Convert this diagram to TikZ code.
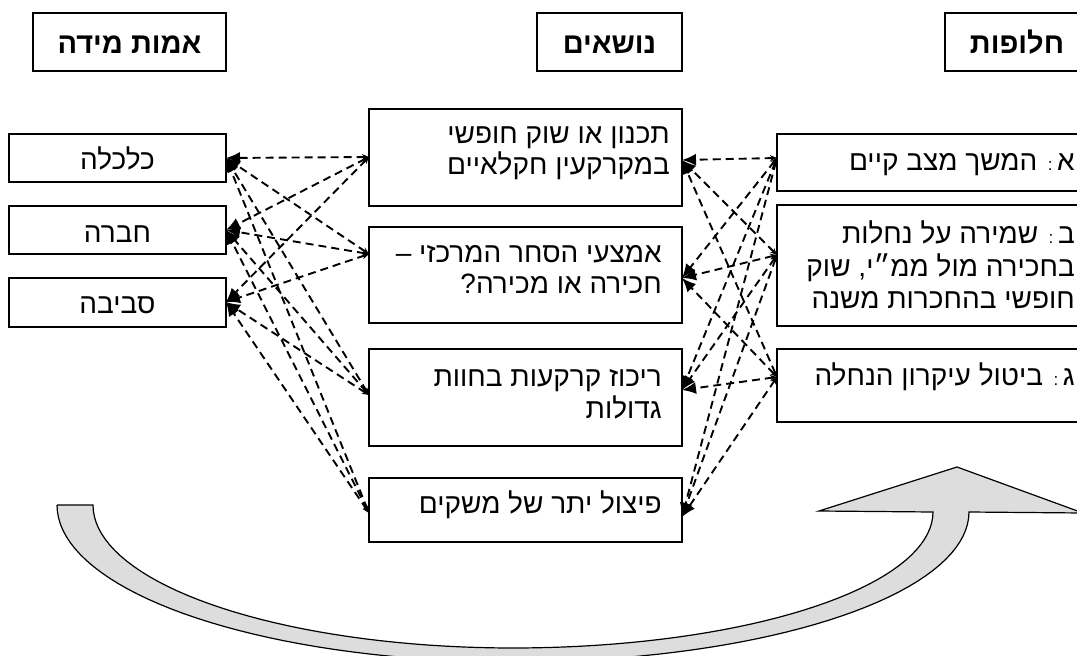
\documentclass[tikz,border=0pt]{standalone}
\usepackage{fontspec}
\usetikzlibrary{arrows.meta}
\TeXXeTstate=1
\newfontfamily\heb[Script=Hebrew]{Liberation Sans}
\newcommand{\heR}[1]{\beginR #1\endR}
\definecolor{bandgray}{HTML}{DDDDDD}
\begin{document}
\begin{tikzpicture}[x=1pt,y=-1pt,
  box/.style={draw, line width=1.6pt, inner sep=0pt},
  hdr/.style={draw, line width=1.9pt, inner sep=0pt, minimum height=58pt},
  hdrtxt/.style={font=\heb\bfseries\fontsize{29}{32}\selectfont, inner sep=0pt, anchor=base},
  txt/.style={font=\heb\fontsize{28}{32}\selectfont, inner sep=0pt, anchor=base east},
  ctxt/.style={font=\heb\fontsize{28}{32}\selectfont, inner sep=0pt, anchor=base},
  conn/.style={line width=1.9pt, dash pattern=on 8pt off 5pt,
     arrows={Stealth[length=7pt,width=6pt]-Latex[length=14pt,width=12pt]}},
  band/.style={draw, line width=1.2pt, fill=bandgray},
]
\useasboundingbox (0,0) rectangle (1077,656);
\clip (0,0) rectangle (1077,656);

% curved arrow
\draw[band] (57,505) -- (93,505)
  -- plot[domain=180:90, samples=40] ({513+420*cos(\x)},{505+143*sin(\x)})
  -- plot[domain=90:0, samples=40] ({513+420*cos(\x)},{512+136*sin(\x)})
  -- (819,511) -- (957,467) -- (1083,513) -- (969,512)
  -- plot[domain=0:90, samples=40] ({513+456*cos(\x)},{512+150*sin(\x)})
  -- plot[domain=90:180, samples=40] ({513+456*cos(\x)},{505+157*sin(\x)})
  -- cycle;

% headers
\node[hdr, minimum width=193pt] (h1) at (129.5,42) {};
\node[hdr, minimum width=145pt] (h2) at (609.5,42) {};
\node[hdr, minimum width=144pt] (h3) at (1017,42) {};
\node[hdrtxt] (h1t) at (129.5,53) {\heR{אמות מידה}};
\node[hdrtxt] (h2t) at (609.5,53) {\heR{נושאים}};
\node[hdrtxt] (h3t) at (1017,53) {\heR{חלופות}};

% left boxes
\node[box, minimum width=217pt, minimum height=48pt] (kal) at (117.5,158) {};
\node[box, minimum width=217pt, minimum height=48pt] (hev) at (117.5,230) {};
\node[box, minimum width=217pt, minimum height=49pt] (svi) at (117.5,302.5) {};
\node[ctxt] (kalt) at (117.5,169) {\heR{כלכלה}};
\node[ctxt] (hevt) at (117.5,242) {\heR{חברה}};
\node[ctxt] (svit) at (117.5,313) {\heR{סביבה}};

% middle boxes
\node[box, minimum width=313pt, minimum height=97pt] (m1) at (525.5,157.5) {};
\node[box, minimum width=313pt, minimum height=96pt] (m2) at (525.5,275) {};
\node[box, minimum width=313pt, minimum height=97pt] (m3) at (525.5,397.5) {};
\node[box, minimum width=313pt, minimum height=64pt] (m4) at (525.5,510) {};
\node[txt] (m1a) at (670,143) {\heR{תכנון או שוק חופשי}};
\node[txt] (m1b) at (670,174) {\heR{במקרקעין חקלאיים}};
\node[txt] (m2a) at (662,262) {\heR{אמצעי הסחר המרכזי –}};
\node[txt] (m2b) at (662,293) {\heR{חכירה או מכירה{}?}};
\node[txt] (m3a) at (662,386) {\heR{ריכוז קרקעות בחוות}};
\node[txt] (m3b) at (662,418) {\heR{גדולות}};
\node[txt] (m4a) at (662,513) {\heR{פיצול יתר של משקים}};

% right boxes
\node[box, minimum width=313pt, minimum height=57pt] (ra) at (933.5,162.5) {};
\node[box, minimum width=313pt, minimum height=121pt] (rb) at (933.5,265.5) {};
\node[box, minimum width=313pt, minimum height=73pt] (rc) at (933.5,385.5) {};
\node[txt] (raa) at (1075,170) {\heR{א\,{\fontsize{17}{17}\selectfont:} המשך מצב קיים}};
\node[txt] (rba) at (1075,243) {\heR{ב\,{\fontsize{17}{17}\selectfont:} שמירה על נחלות}};
\node[txt] (rbb) at (1075,276) {\heR{בחכירה מול ממ״י{}, שוק}};
\node[txt] (rbc) at (1075,308) {\heR{חופשי בהחכרות משנה}};
\node[txt] (rca) at (1075,385) {\heR{ג\,{\fontsize{17}{17}\selectfont:} ביטול עיקרון הנחלה}};

% attachment points
\coordinate (kalR) at (226,158);
\coordinate (hevR) at (226,230);
\coordinate (sviR) at (226,302);
\coordinate (m1L) at (369,157);
\coordinate (m2L) at (369,254);
\coordinate (m3L) at (369,395);
\coordinate (m4L) at (369,513);
\coordinate (m1R) at (682,160);
\coordinate (m2R) at (682,278);
\coordinate (m3R) at (682,390);
\coordinate (m4R) at (682,517);
\coordinate (raL) at (777,158);
\coordinate (rbL) at (777,255);
\coordinate (rcL) at (777,377);

% left connectors
\foreach \m in {m1L,m2L,m3L,m4L}{
  \foreach \l in {kalR,hevR,sviR}{
    \draw[conn] (\m) -- (\l);
  }
}
% right connectors
\foreach \r in {raL,rbL,rcL}{
  \foreach \m in {m1R,m2R,m3R,m4R}{
    \draw[conn] (\r) -- (\m);
  }
}
\end{tikzpicture}
\end{document}
